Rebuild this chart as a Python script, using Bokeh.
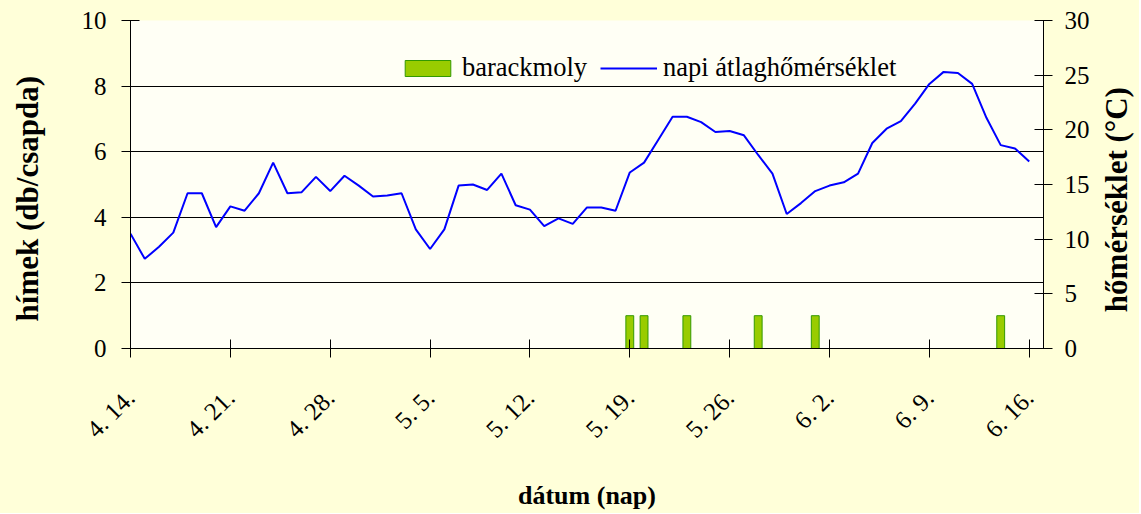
import math
from bokeh.plotting import figure
from bokeh.layouts import row
from bokeh.models import Range1d, LinearAxis, FixedTicker, Legend, LegendItem
from bokeh.core.properties import value
from bokeh.embed import file_html
from bokeh.resources import INLINE

# ---- data ----
# day index 0 = 4. 14. (April 14) ... 63 = 6. 16. (June 16)
tick_days = [0, 7, 14, 21, 28, 35, 42, 49, 56, 63]
tick_labels = ["4. 14.", "4. 21.", "4. 28.", "5. 5.", "5. 12.",
               "5. 19.", "5. 26.", "6. 2.", "6. 9.", "6. 16."]

temp_days = list(range(64))
temperature = [10.5, 8.2, 9.3, 10.6, 14.2, 14.2, 11.1, 13.0, 12.6, 14.2,
               17.0, 14.2, 14.3, 15.7, 14.4, 15.8, 14.9, 13.9, 14.0, 14.2,
               10.9, 9.1, 10.9, 14.9, 15.0, 14.5, 16.0, 13.1, 12.7, 11.2,
               11.9, 11.4, 12.9, 12.9, 12.6, 16.1, 17.0, 19.1, 21.2, 21.2,
               20.7, 19.8, 19.9, 19.5, 17.7, 16.0, 12.3, 13.3, 14.4, 14.9,
               15.2, 16.0, 18.8, 20.1, 20.8, 22.4, 24.2, 25.3, 25.2, 24.2,
               21.1, 18.6, 18.3, 17.1]

moth_days = [35, 36, 39, 44, 48, 61]
moth_counts = [1, 1, 1, 1, 1, 1]

left_title = "hímek (db/csapda)"
right_title = "hőmérséklet (°C)"
x_title = "dátum (nap)"

FONT = "Liberation Serif"
BORDER = "#FFFFD9"
PLOTBG = "#FFFFF5"
H = 506

p = figure(frame_width=913, frame_height=328,
           x_range=Range1d(0, 64), y_range=Range1d(0, 10),
           output_backend="svg", toolbar_location=None,
           min_border_left=80, min_border_right=52,
           min_border_top=20, min_border_bottom=150)
p.extra_y_ranges = {"temp": Range1d(0, 30)}

p.border_fill_color = BORDER
p.background_fill_color = PLOTBG
p.outline_line_color = None

bars = p.vbar(x=moth_days, top=moth_counts, width=0.55,
              fill_color="#99CC00", line_color="#339900", line_width=1)
line = p.line(x=temp_days, y=temperature, y_range_name="temp",
              line_color="#0000FF", line_width=2)

# axes
xa = p.xaxis[0]
xa.ticker = FixedTicker(ticks=tick_days)
xa.major_label_overrides = {d: l for d, l in zip(tick_days, tick_labels)}
xa.major_label_orientation = math.pi / 4
xa.axis_label = x_title
xa.major_label_standoff = 36
xa.axis_label_standoff = 26

ya = p.yaxis[0]
ya.ticker = FixedTicker(ticks=[0, 2, 4, 6, 8, 10])
ya.major_label_standoff = 15

ra = LinearAxis(y_range_name="temp", ticker=FixedTicker(ticks=[0, 5, 10, 15, 20, 25, 30]))
ra.major_label_standoff = 12
p.add_layout(ra, "right")

for ax in [xa, ya, ra]:
    ax.major_label_text_font = FONT
    ax.major_label_text_font_size = "25px"
    ax.major_label_text_color = "#000000"
    ax.axis_label_text_font = FONT
    ax.axis_label_text_font_size = "26px"
    ax.axis_label_text_font_style = "bold"
    ax.axis_label_text_color = "#000000"
    ax.axis_line_color = "#000000"
    ax.major_tick_line_color = "#000000"
    ax.major_tick_in = 9
    ax.major_tick_out = 9
    ax.minor_tick_line_color = None

p.xgrid.grid_line_color = None
p.ygrid.ticker = FixedTicker(ticks=[2, 4, 6, 8, 10])
p.ygrid.grid_line_color = "#000000"
p.ygrid.grid_line_width = 1

legend = Legend(items=[LegendItem(label="barackmoly", renderers=[bars]),
                       LegendItem(label="napi átlaghőmérséklet", renderers=[line])],
                orientation="horizontal", location=(269, 265))
legend.label_text_font = FONT
legend.label_text_font_size = "26.5px"
legend.label_text_color = "#000000"
legend.glyph_width = 57
legend.glyph_height = 20
legend.label_standoff = 6
legend.spacing = 13
legend.padding = 10
legend.margin = 0
legend.border_line_color = None
legend.background_fill_color = PLOTBG
legend.background_fill_alpha = 1.0
p.add_layout(legend, "center")


def title_strip(width, text, tx, ty, size):
    """Narrow strip holding a vertical (bottom-to-top) axis title.
    Its frame lines up with the main frame, so y uses the left-axis scale."""
    s = figure(width=width, height=H, x_range=Range1d(0, width), y_range=Range1d(0, 10),
               output_backend="svg", toolbar_location=None,
               x_axis_location=None, y_axis_location=None,
               min_border_left=0, min_border_right=0, min_border_top=0, min_border_bottom=0)
    s.border_fill_color = BORDER
    s.background_fill_color = BORDER
    s.outline_line_color = None
    s.xgrid.visible = False
    s.ygrid.visible = False
    s.text(x=[tx], y=[ty], text=[text], angle=math.pi / 2,
           text_align="center", text_baseline="middle",
           text_font=value(FONT), text_font_size=size, text_font_style="bold",
           text_color="#000000")
    return s


left_strip = title_strip(50, left_title, 27, 4.45, "31px")
right_strip = title_strip(44, right_title, 21, 4.42, "31px")

layout = row(left_strip, p, right_strip, spacing=0,
             styles={"background-color": BORDER})
open("out.html", "w").write(file_html(layout, INLINE))
